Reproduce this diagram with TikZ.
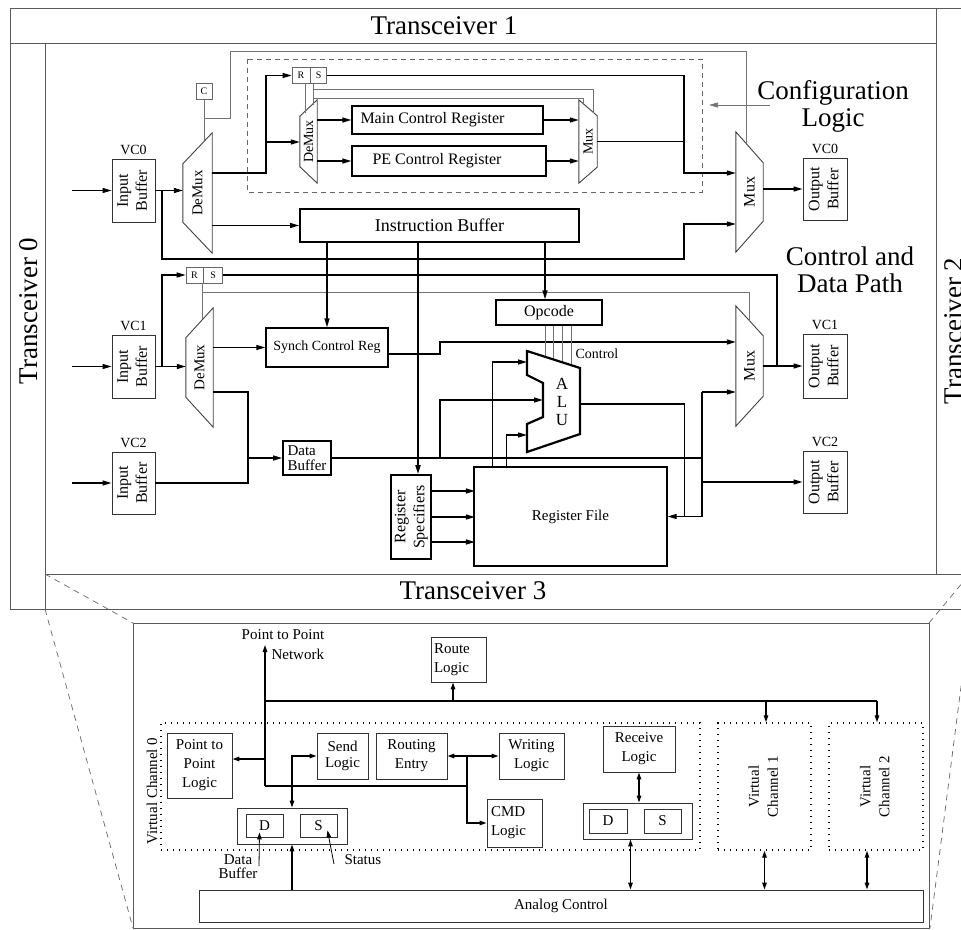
\documentclass[tikz,border=0pt]{standalone}
\usepackage{fontspec}
\setmainfont{Liberation Serif}
\usetikzlibrary{arrows.meta,calc,positioning}

\tikzset{
	frame/.style={draw=black!65, line width=0.9pt},
	box/.style={draw=black!80, line width=0.9pt, inner sep=0pt},
	mbox/.style={draw=black, line width=1.3pt, inner sep=0pt},
	bbox/.style={draw=black, line width=1.8pt, inner sep=0pt},
	sbox/.style={draw=black!60, line width=0.7pt, inner sep=0pt, minimum height=16, font=\fontsize{10}{10}\selectfont},
	mux/.style={inner sep=0pt},
	muxline/.style={draw=black!75, line width=0.9pt, line join=miter},
	wire/.style={line width=1.3pt},
	thinwire/.style={line width=0.8pt},
	ctl/.style={draw=black!55, line width=0.7pt},
	cfgline/.style={draw=black!60, line width=0.8pt, dash pattern=on 5pt off 4pt},
	zoomline/.style={draw=black!60, line width=0.7pt, dash pattern=on 6pt off 5pt},
	vcbox/.style={draw=black, line width=1.4pt, dash pattern=on 1.4pt off 4.6pt, inner sep=0pt},
	fbig/.style={font=\fontsize{27}{27}\selectfont},
	fib/.style={font=\fontsize{18}{20}\selectfont},
	fmid/.style={font=\fontsize{16}{19}\selectfont},
	fsm/.style={font=\fontsize{15}{15}\selectfont},
	flab/.style={font=\fontsize{14}{16}\selectfont},
	falu/.style={font=\fontsize{17}{18}\selectfont},
	fbot/.style={font=\fontsize{15}{19}\selectfont},
}

% text turned upright, one or more lines
\newcommand{\vlab}[1]{\rotatebox{90}{\begin{tabular}{@{}c@{}}#1\end{tabular}}}
% trapezoid outlines round a named node
\newcommand{\demuxshape}[2]{\draw[muxline] (#1.north east) -- (#1.south east) -- ($(#1.south west)+(0,-#2)$) -- ($(#1.north west)+(0,#2)$) -- cycle;}
\newcommand{\muxshape}[2]{\draw[muxline] (#1.north west) -- (#1.south west) -- ($(#1.south east)+(0,-#2)$) -- ($(#1.north east)+(0,#2)$) -- cycle;}

\begin{document}
\begin{tikzpicture}[x=1pt, y=-1pt, >={Triangle[length=9pt,width=5pt]}]

	\useasboundingbox (0,0) rectangle (961,929);
	\clip (0,0) rectangle (961,929);

	% transceiver frame
	\draw[frame] (10,8) -- (961,8);
	\draw[frame] (10,8) -- (10,609) -- (961,609);
	\draw[frame] (10,43) -- (936,43);
	\draw[frame] (936,8) -- (936,574);
	\draw[frame] (45,43) -- (45,609);
	\draw[frame] (45,574) -- (961,574);

	\node[fbig] (tr1) at (444,26) {Transceiver 1};
	\node[fbig, rotate=90] (tr0) at (29,311) {Transceiver 0};
	\node[fbig] (tr3) at (473,591) {Transceiver 3};
	\node[fbig, rotate=90] (tr2) at (954,331) {Transceiver 2};

	% configuration logic
	\draw[cfgline] (247,59) rectangle (702,192);
	\node[fbig, align=center] (cfg) at (833,106) {Configuration\\Logic};
	\coordinate (cfgtail) at (770,105);
	\coordinate (cfgtip) at (709,105);
	\draw[ctl, ->] (cfgtail) -- (cfgtip);

	\node[fbig, align=center] (cdp) at (850,270) {Control and\\Data Path};

	% buffers
	\node[box, minimum width=43, minimum height=63, fmid] (ib0) at (133.5,190.5) {\vlab{Input\\Buffer}};
	\node[box, minimum width=43, minimum height=63, fmid] (ib1) at (133.5,366.5) {\vlab{Input\\Buffer}};
	\node[box, minimum width=43, minimum height=62, fmid] (ib2) at (133.5,483) {\vlab{Input\\Buffer}};
	\node[box, minimum width=44, minimum height=62, fmid] (ob0) at (825,189) {\vlab{Output\\Buffer}};
	\node[box, minimum width=44, minimum height=64, fmid] (ob1) at (825,366) {\vlab{Output\\Buffer}};
	\node[box, minimum width=44, minimum height=62, fmid] (ob2) at (825,482) {\vlab{Output\\Buffer}};
	\foreach \b/\t in {ib0/VC0, ib1/VC1, ib2/VC2, ob0/VC0, ob1/VC1, ob2/VC2}
		\node[flab, above=0pt of \b] (\b-lab) {\t};

	% mux and demux
	\node[mux, minimum width=29, minimum height=120, fsm] (dmx0) at (197.5,193) {\rotatebox{90}{DeMux}};
	\node[mux, minimum width=17, minimum height=83, flab] (dmx1) at (308.5,141.5) {\rotatebox{90}{DeMux}};
	\node[mux, minimum width=18, minimum height=83, flab] (mx1) at (588,141.5) {\rotatebox{90}{Mux}};
	\node[mux, minimum width=27, minimum height=120, fmid] (mx0) at (749.5,192) {\rotatebox{90}{Mux}};
	\node[mux, minimum width=27, minimum height=119, fsm] (dmx2) at (199.5,367.5) {\rotatebox{90}{DeMux}};
	\node[mux, minimum width=27, minimum height=120, fmid] (mx2) at (749.5,366) {\rotatebox{90}{Mux}};
	\demuxshape{dmx0}{31}
	\demuxshape{dmx1}{16.5}
	\muxshape{mx1}{16}
	\muxshape{mx0}{31}
	\demuxshape{dmx2}{30}
	\muxshape{mx2}{30}

	% registers
	\node[bbox, minimum width=279, minimum height=33, fib] (ibuf) at (439.5,225.5) {Instruction Buffer};
	\node[mbox, minimum width=191, minimum height=28] (mcr) at (447.5,120) {};
	\node[fmid] (mcrtext) at ($(mcr)+(-15,0)$) {Main Control Register};
	\node[mbox, minimum width=194, minimum height=30] (pcr) at (449,161) {};
	\node[fmid] (pcrtext) at ($(pcr)+(-12,0)$) {PE Control Register};
	\node[mbox, minimum width=122, minimum height=39, flab] (scr) at (327,347.5) {Synch Control Reg};
	\node[mbox, minimum width=106, minimum height=25, fmid] (opc) at (549,312.5) {Opcode};
	\node[bbox, minimum width=48, minimum height=34, fsm, align=left] (db) at (307,458) {Data\\Buffer};
	\node[bbox, minimum width=40, minimum height=84, fmid] (rspec) at (411,517) {\vlab{Register\\Specifiers}};
	\node[mbox, minimum width=193, minimum height=99, fsm] (rf) at (570.5,516.5) {Register File};

	% set and reset boxes
	\node[sbox, minimum width=18] (rr0) at (301,75.5) {R};
	\node[sbox, minimum width=16, right=0pt of rr0] (ss0) {S};
	\node[sbox, minimum width=17] (rr1) at (194.5,275) {R};
	\node[sbox, minimum width=19, right=0pt of rr1] (ss1) {S};
	\node[sbox, minimum width=16] (cbox) at (204,91) {C};

	% VC0 path
	\coordinate (in0) at (72,190.5);
	\draw[wire, ->] (in0) -- (ib0.west);
	\draw[wire, ->] (ib0.east) -- (ib0.east -| dmx0.west);
	\coordinate (b0) at (162,190.5);
	\coordinate (b1) at (684,259);
	\coordinate (b2) at (684,224);
	\draw[wire, ->] (b0) |- (b1) -- (b2) -- (b2 -| mx0.west);
	\draw[wire, ->] (ibuf.west -| dmx0.east) -- (ibuf.west);
	\coordinate (b3) at (266,173);
	\coordinate (b4) at (266,142);
	\draw[wire, ->] (b3 -| dmx0.east) -- (b3) |- (rr0.west);
	\draw[wire, ->] (b4) -- (b4 -| dmx1.west);
	\draw[wire, ->] (mcr.west -| dmx1.east) -- (mcr.west);
	\draw[wire, ->] (pcr.west -| dmx1.east) -- (pcr.west);
	\draw[wire, ->] (mcr.east) -- (mcr.east -| mx1.west);
	\draw[wire, ->] (pcr.east) -- (pcr.east -| mx1.west);
	\coordinate (b5) at (684,173);
	\draw[wire, ->] (ss0.east) -| (b5) -- (b5 -| mx0.west);
	\draw[wire] (mx1.east) -- (mx1.east -| b5);
	\draw[wire, ->] (ob0.west -| mx0.east) -- (ob0.west);

	% select lines
	\draw[ctl] ($(rr0.south)+(4,0)$) -- ++(0,29);
	\draw[ctl] ($(ss0.south)+(-5,0)$) -- ++(0,21);
	\draw[ctl] ($(ss0.south)+(-5,5)$) -| ($(mx1.north east)+(-4,13)$);
	\draw[ctl] ($(ss0.south)+(-5,14)$) -| ($(mx1.north west)+(5,5)$);
	\draw[ctl] (cbox.south) -- ++(0,42);
	\coordinate (c1) at (230,51);
	\coordinate (c2) at (746,143);
	\draw[ctl] ($(cbox.south)+(0,19)$) -| (c1) -| (c2);

	% VC1 path
	\coordinate (in1) at (72,366.5);
	\draw[wire, ->] (in1) -- (ib1.west);
	\draw[wire, ->] (ib1.east) -- (ib1.east -| dmx2.west);
	\coordinate (b6) at (162,366.5);
	\draw[wire, ->] (b6) |- (rr1.west);
	\draw[ctl] ($(rr1.south)+(7.5,0)$) -- ++(0,36);
	\draw[ctl] ($(rr1.south)+(7.5,9)$) -| ($(mx2.north west)+(14,15)$);
	\coordinate (b7) at (777,366);
	\draw[wire] (ss1.east) -| (b7);
	\draw[wire, ->] (mx2.east) -- (ob1.west);
	\draw[wire, ->] (scr.west -| dmx2.east) -- (scr.west);
	\coordinate (b8) at (440,342);
	\draw[wire, ->] ($(scr.east)+(0,6.5)$) -| (b8) -- (b8 -| mx2.west);

	% VC2 and data
	\coordinate (in2) at (72,483);
	\draw[wire, ->] (in2) -- (ib2.west);
	\coordinate (b9) at (248,392);
	\coordinate (b10) at (248,483);
	\draw[wire] (b9 -| dmx2.east) -- (b9) -- (b10) -- (ib2.east);
	\draw[wire, ->] (db.west -| b9) -- (db.west);
	\coordinate (b11) at (702,458);
	\draw[wire] (db.east) -- (b11);
	\coordinate (b12) at (440,458);
	\coordinate (alumid) at (543,400);
	\draw[wire, ->] (b12) |- (alumid);

	% instruction buffer outputs
	\draw[wire, ->] (ibuf.south -| scr.north) -- (scr.north);
	\coordinate (rsin) at ($(rspec.north)+(7,0)$);
	\draw[wire, line width=1.8pt, ->] (ibuf.south -| rsin) -- (rsin);
	\coordinate (opin) at ($(opc.north)+(-4,0)$);
	\draw[wire, ->] (ibuf.south -| opin) -- (opin);

	% opcode control
	\foreach \dx/\len in {-4/32, 4/34, 13/37, 22/40}
		\draw[ctl] ($(opc.south)+(\dx,0)$) -- ++(0,\len);
	\node[flab, anchor=west] (ctrl) at (572,354) {Control};

	% ALU
	\draw[line width=2.2pt, line join=miter] (527,351) -- (580,368) -- (580,434) -- (527,452) -- (527,424) -- (543,417) -- (543,383) -- (527,375) -- cycle;
	\node[falu, align=center] (alu) at (562,402) {A\\L\\U};
	\coordinate (aluin1) at (527,362);
	\coordinate (aluin2) at (527,435);
	\coordinate (aluout) at (580,404);
	\draw[wire, ->] ($(rf.north west)+(19,0)$) |- (aluin1);
	\draw[wire, ->] ($(rf.north west)+(33,0)$) |- (aluin2);
	\draw[wire, ->] (aluout) -| ($(rf.east)+(17,0)$) -- (rf.east);
	\coordinate (b13) at (702,392);
	\draw[wire, ->] (b13) -- (b13 -| mx2.west);
	\draw[wire] (b13) |- ($(rf.east)+(17,0)$);
	\draw[wire, ->] (b13 |- ob2.west) -- (ob2.west);

	% register specifiers
	\foreach \dy in {-26, 0, 25}
		\draw[wire, ->] ($(rspec.east)+(0,\dy)$) -- ++(43,0);

	% zoomed transceiver
	\draw[zoomline] (45,574) -- (133,623);
	\draw[zoomline] (45,609) -- (133,928);
	\draw[zoomline] (968,576) -- (929,623);
	\draw[zoomline] (971,609) -- (930,928);
	\draw[frame] (133,623) rectangle (929,928);

	\begin{scope}[>={Triangle[length=7pt,width=4.5pt]}]
	\node[fbot] (ptp) at (283,635) {Point to Point};
	\node[fbot, anchor=west] (ptpnet) at (268,654) {Network};
	\node[box, minimum width=55, minimum height=45, fbot, text width=49, align=left] (rl) at (458.5,659.5) {Route\\Logic};

	\node[vcbox, minimum width=539, minimum height=127] (vc0) at (430.5,786.5) {};
	\node[fbot, rotate=90] (vc0lab) at (152,791) {Virtual Channel 0};
	\node[vcbox, minimum width=93, minimum height=127, fbot] (vc1) at (764.5,786.5) {\vlab{Virtual\\Channel 1}};
	\node[vcbox, minimum width=94, minimum height=127, fbot] (vc2) at (876,786.5) {\vlab{Virtual\\Channel 2}};

	\node[box, minimum width=65, minimum height=65, fbot, align=center] (ptpl) at (199.5,765.5) {Point to\\Point\\Logic};
	\node[box, minimum width=51, minimum height=46, font=\fontsize{15}{16}\selectfont, align=center] (sl) at (342.5,756) {Send\\Logic};
	\node[box, minimum width=71, minimum height=46, fbot, align=center] (re) at (411.5,756) {Routing\\Entry};
	\node[box, minimum width=65, minimum height=46, fbot, align=center] (wl) at (531.5,756) {Writing\\Logic};
	\node[box, minimum width=55, minimum height=48, fbot, text width=47, align=left] (cmd) at (514.5,823) {CMD\\Logic};
	\node[box, minimum width=72, minimum height=46, fbot, align=center] (rcv) at (639,749) {Receive\\Logic};

	\node[box, minimum width=110, minimum height=36] (ds0) at (292,826) {};
	\node[box, minimum width=37, minimum height=23, fbot] (dd0) at (264.5,825.5) {D};
	\node[box, minimum width=37, minimum height=23, fbot] (st0) at (318.5,825.5) {S};
	\node[box, minimum width=109, minimum height=36] (ds1) at (637.5,821) {};
	\node[box, minimum width=38, minimum height=24, fbot] (dd1) at (608,821) {D};
	\node[box, minimum width=37, minimum height=24, fbot] (st1) at (662.5,821) {S};
	\node[box, minimum width=724, minimum height=32, fbot] (ac) at (561,906) {Analog Control};

	% buses
	\coordinate (bus0) at (265,786);
	\coordinate (busup) at (265,645);
	\draw[wire, ->] (bus0) -- (busup);
	\coordinate (busl) at (265,701);
	\coordinate (busr) at (877,701);
	\draw[wire] (busl) -- (busr);
	\draw[wire, ->] (busr) -- (busr |- vc2.north);
	\coordinate (busv1) at (766,701);
	\draw[wire, ->] (busv1) -- (busv1 |- vc1.north);
	\coordinate (busrl) at (453,701);
	\draw[wire, ->] (busrl) -- (busrl |- rl.south);
	\coordinate (bus1) at (265,759);
	\draw[wire, ->] (bus1) -- (bus1 -| ptpl.east);
	\draw[wire, <->] (ds0.north) |- (sl.west);
	\draw[wire, <->] (re.east) -- (wl.west);
	\coordinate (bus2) at (467,756);
	\draw[wire, ->] (bus2) |- (cmd.west);
	\draw[wire] (bus0) -- (bus0 -| bus2);
	\draw[wire, <->] (rcv.south) -- (rcv.south |- ds1.north);
	\coordinate (ds1b) at ($(ds1.south)+(-7,0)$);
	\draw[wire, <->] (ds1b) -- (ds1b |- ac.north);
	\draw[wire, <->] (vc1.south) -- (vc1.south |- ac.north);
	\coordinate (vc2b) at ($(vc2.south)+(-9,0)$);
	\draw[wire, <->] (vc2b) -- (vc2b |- ac.north);
	\draw[wire, ->] (ac.north -| ds0.south) -- (ds0.south);

	% labels of the buffer parts
	\node[font=\fontsize{15}{14}\selectfont, align=center] (dblab) at (238,867) {Data\\Buffer};
	\coordinate (dbtail) at (259,866);
	\draw[thinwire, ->] (dbtail) -- ($(dd0.south)+(-5,-5)$);
	\node[fbot, anchor=west] (stlab) at (341,860) {Status};
	\draw[thinwire, ->] ($(stlab.west)+(-7,4)$) -- ($(st0.south)+(9,-7)$);
	\end{scope}

\end{tikzpicture}
\end{document}
